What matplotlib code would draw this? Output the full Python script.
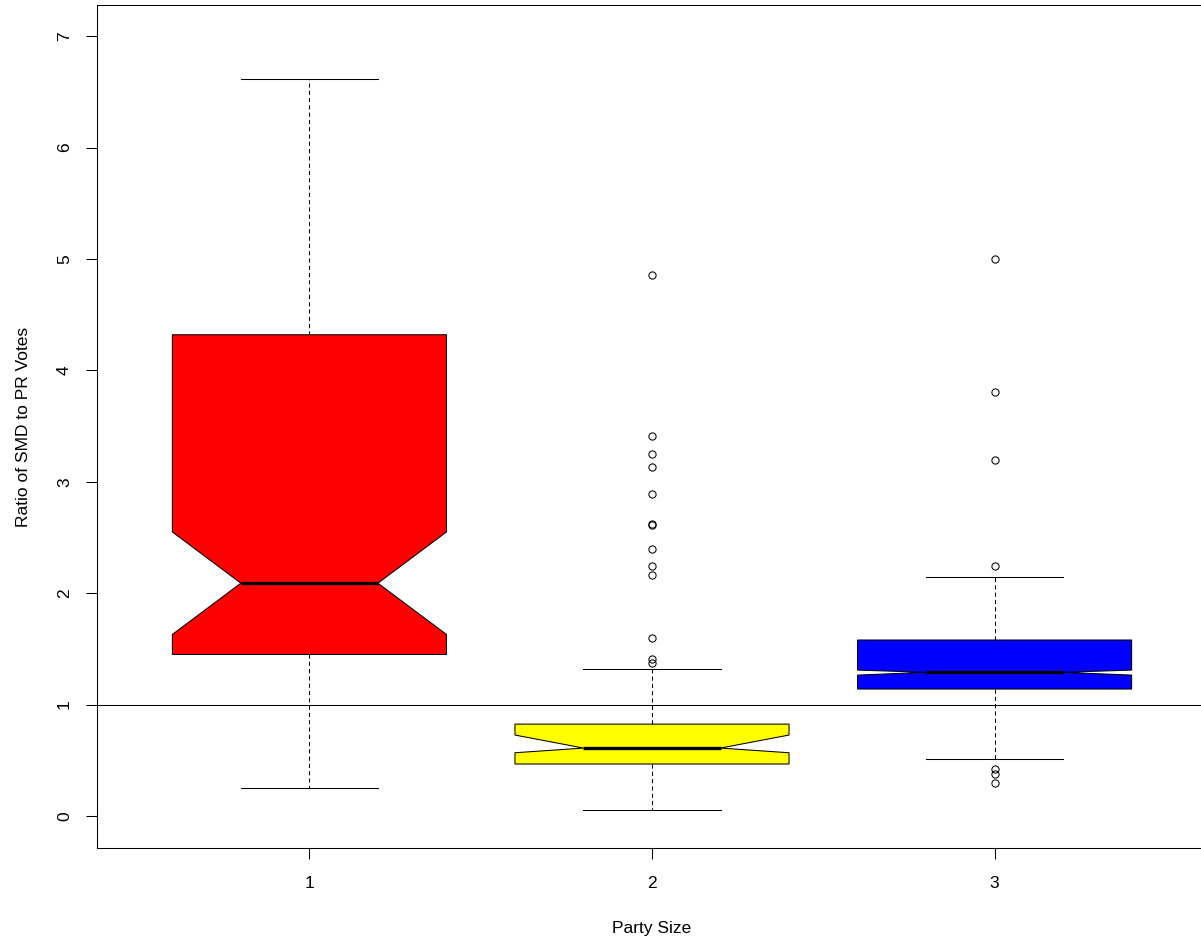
import matplotlib
matplotlib.use("Agg")
import matplotlib.pyplot as plt

plt.rcParams['font.family'] = ['Liberation Sans', 'DejaVu Sans']

# five-number summaries (R style notched boxplot)
groups = ["1", "2", "3"]
q1 = [1.45, 0.467, 1.14]
med = [2.09, 0.61, 1.29]
q3 = [4.32, 0.825, 1.58]
whislo = [0.25, 0.055, 0.51]
whishi = [6.62, 1.32, 2.15]
cilo = [1.63, 0.568, 1.265]
cihi = [2.55, 0.727, 1.31]
fliers = [
    [],
    [4.86, 3.41, 3.25, 3.13, 2.89, 2.62, 2.61, 2.40, 2.24, 2.16, 1.60, 1.41, 1.37],
    [5.0, 3.81, 3.20, 2.24, 0.42, 0.38, 0.30],
]
colors = ["#ff0000", "#ffff00", "#0000ff"]

stats = []
for i in range(3):
    stats.append(dict(label=groups[i], q1=q1[i], med=med[i], q3=q3[i],
                      whislo=whislo[i], whishi=whishi[i],
                      cilo=cilo[i], cihi=cihi[i], fliers=fliers[i]))

fig = plt.figure(figsize=(12.01, 9.42), dpi=100)
ax = fig.add_axes([97/1201, 94/942, 1110/1201, 843/942])

lw = 0.75
bp = ax.bxp(stats, positions=[1, 2, 3], widths=0.8, shownotches=True,
            patch_artist=True,
            boxprops=dict(linewidth=lw, edgecolor="black"),
            medianprops=dict(color="black", linewidth=2.4),
            whiskerprops=dict(color="black", linewidth=lw, linestyle=(0, (4, 3))),
            capprops=dict(color="black", linewidth=lw),
            flierprops=dict(marker="o", markerfacecolor="none",
                            markeredgecolor="black", markersize=5.2,
                            markeredgewidth=0.75))
for patch, c in zip(bp["boxes"], colors):
    patch.set_facecolor(c)

ax.axhline(1, color="black", linewidth=lw)

ax.set_xlim(0.38, 3.62)
ax.set_ylim(-0.287, 7.28)
ax.set_xticks([1, 2, 3])
ax.set_xticklabels(groups)
ax.set_yticks(range(0, 8))
ax.set_yticklabels([str(v) for v in range(0, 8)], rotation=90, va="center")
ax.tick_params(direction="out", length=8, width=lw, labelsize=12.5, pad=10)
ax.tick_params(axis="x", pad=12)
for s in ax.spines.values():
    s.set_linewidth(lw)

ax.set_xlabel("Party Size", fontsize=12.5, labelpad=22)
ax.set_ylabel("Ratio of SMD to PR Votes", fontsize=12.5, labelpad=19)

fig.savefig("out.png", dpi=100)
